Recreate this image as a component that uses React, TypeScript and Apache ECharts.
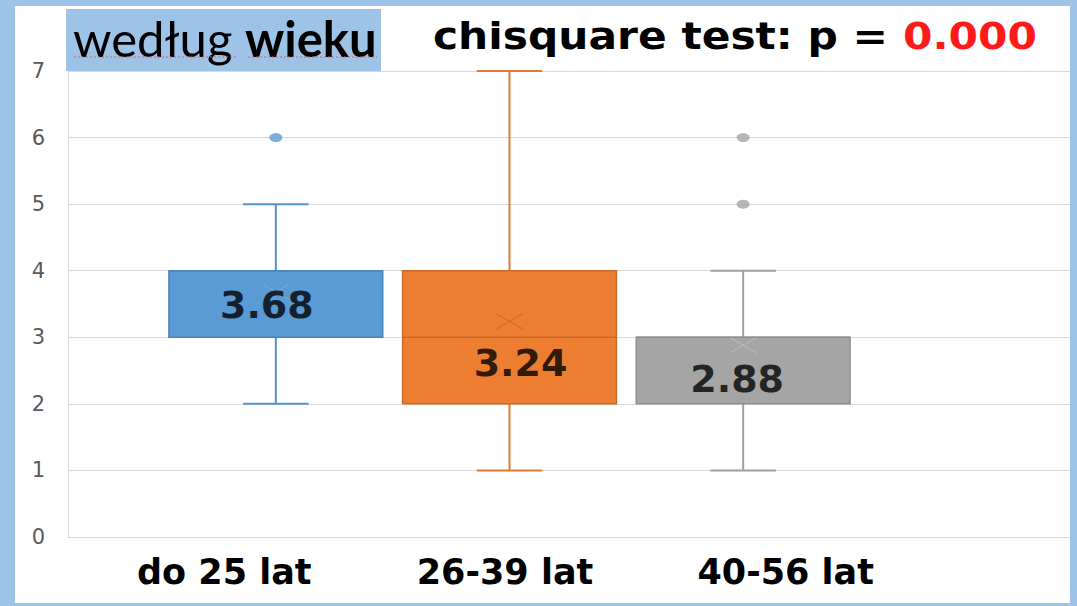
import React, { useEffect, useRef } from 'react';
import * as echarts from 'echarts';

// ---- data ----
const categories = ['do 25 lat', '26-39 lat', '40-56 lat'];
// [min, Q1, median, Q3, max]
const boxStats = [
  [2, 3, 4, 4, 5],
  [1, 2, 3, 4, 7],
  [1, 2, 3, 3, 4],
];
const means = [3.68, 3.24, 2.88];
// [category index, value]
const outliers = [
  [0, 6],
  [2, 5],
  [2, 6],
];
const yMin = 0;
const yMax = 7;
const yStep = 1;
const titleText = 'według';
const titleBold = 'wieku';
const testLabel = 'chisquare test: p = ';
const testValue = '0.000';

// ---- styles ----
const fills = ['#5b9bd5', '#ed7d31', '#a5a5a5'];
const borders = ['#4a84bd', '#c9692a', '#8f8f8f'];
const whiskers = ['#5592cc', '#e07a36', '#a0a0a0'];
const crossColors = ['#7eaadb', '#c46a30', '#c0c0c0'];
const labelOffsets = [
  [-9, 13],
  [11, 42],
  [-6, 34],
];
const FRAME = '#9dc3e6';

export default function App() {
  const ref = useRef<HTMLDivElement>(null);

  useEffect(() => {
    if (!ref.current) return;
    const chart = echarts.init(ref.current, undefined, { renderer: 'svg' });

    const boxSeriesData = boxStats.map((s, i) => [i, ...s]);

    const option: any = {
      animation: false,
      grid: [
        { left: 68, right: 7, top: 71, bottom: 69 },
        { left: 159, right: 217, top: 71, bottom: 69 },
        { left: 84, right: 151, top: 71, bottom: 69 },
      ],
      xAxis: [
        {
          gridIndex: 0,
          type: 'value',
          min: 0,
          max: 1,
          axisLine: { show: true, onZero: false, lineStyle: { color: '#d9d9d9', width: 1 } },
          axisTick: { show: false },
          axisLabel: { show: false },
          splitLine: { show: false },
        },
        {
          gridIndex: 1,
          type: 'category',
          data: categories,
          show: false,
        },
        {
          gridIndex: 2,
          type: 'category',
          data: categories,
          axisLine: { show: false },
          axisTick: { show: false },
          axisLabel: {
            margin: 17,
            fontFamily: 'DejaVu Sans',
            fontWeight: 'bold',
            fontSize: 35,
            color: '#000000',
          },
        },
      ],
      yAxis: [
        {
          gridIndex: 0,
          type: 'value',
          min: yMin,
          max: yMax,
          interval: yStep,
          axisLine: { show: true, lineStyle: { color: '#d9d9d9', width: 1 } },
          axisTick: { show: false },
          axisLabel: {
            margin: 23,
            fontFamily: 'DejaVu Sans',
            fontSize: 21,
            color: '#595959',
          },
          splitLine: { show: true, lineStyle: { color: '#d9d9d9', width: 1 } },
        },
        { gridIndex: 1, type: 'value', min: yMin, max: yMax, show: false },
        { gridIndex: 2, type: 'value', min: yMin, max: yMax, show: false },
      ],
      series: [
        {
          type: 'custom',
          xAxisIndex: 1,
          yAxisIndex: 1,
          z: 2,
          data: boxSeriesData,
          encode: { x: 0, y: [1, 2, 3, 4, 5] },
          renderItem: (params: any, api: any) => {
            const idx = api.value(0);
            const mn = api.value(1);
            const q1 = api.value(2);
            const md = api.value(3);
            const q3 = api.value(4);
            const mx = api.value(5);
            const band = api.size([1, 0])[0];
            const bw = band * 0.915;
            const cw = band * 0.28;
            const cx = api.coord([idx, 0])[0];
            const y = (v: number) => api.coord([idx, v])[1];
            const wc = whiskers[idx];
            return {
              type: 'group',
              children: [
                { type: 'line', shape: { x1: cx, y1: y(q3), x2: cx, y2: y(mx) }, style: { stroke: wc, lineWidth: 2 } },
                { type: 'line', shape: { x1: cx, y1: y(q1), x2: cx, y2: y(mn) }, style: { stroke: wc, lineWidth: 2 } },
                { type: 'line', shape: { x1: cx - cw / 2, y1: y(mx), x2: cx + cw / 2, y2: y(mx) }, style: { stroke: wc, lineWidth: 2 } },
                { type: 'line', shape: { x1: cx - cw / 2, y1: y(mn), x2: cx + cw / 2, y2: y(mn) }, style: { stroke: wc, lineWidth: 2 } },
                {
                  type: 'rect',
                  shape: { x: cx - bw / 2, y: y(q3), width: bw, height: y(q1) - y(q3) },
                  style: { fill: fills[idx], stroke: borders[idx], lineWidth: 1.5 },
                },
                {
                  type: 'line',
                  shape: { x1: cx - bw / 2, y1: y(md), x2: cx + bw / 2, y2: y(md) },
                  style: { stroke: borders[idx], lineWidth: 1.5 },
                },
              ],
            };
          },
        },
        {
          type: 'scatter',
          xAxisIndex: 1,
          yAxisIndex: 1,
          z: 3,
          symbol: 'circle',
          symbolSize: [13, 9],
          data: outliers.map((o) => ({ value: o, itemStyle: { color: fills[o[0]] } })),
        },
        {
          type: 'scatter',
          xAxisIndex: 1,
          yAxisIndex: 1,
          z: 4,
          symbol: 'path://M0,0L27,16M27,0L0,16',
          symbolSize: [26, 15],
          data: means.map((m, i) => ({
            value: [i, m],
            itemStyle: { color: 'transparent', borderColor: crossColors[i], borderWidth: 1.2 },
            label: {
              show: true,
              position: 'inside',
              offset: labelOffsets[i],
              formatter: m.toFixed(2),
              fontFamily: 'DejaVu Sans',
              fontWeight: 'bold',
              fontSize: 38,
              color: '#000000',
            },
          })),
        },
      ],
      graphic: [
        {
          type: 'rect',
          z: 10,
          shape: { x: 66, y: 9, width: 315, height: 62 },
          style: { fill: FRAME },
        },
        {
          type: 'text',
          z: 11,
          x: 73,
          y: 38,
          style: {
            text: '{r|' + titleText + ' }{b|' + titleBold + '}',
            verticalAlign: 'middle',
            rich: {
              r: { fontFamily: 'Lato', fontSize: 49, fontWeight: 'normal', fill: '#000' },
              b: { fontFamily: 'Lato', fontSize: 49, fontWeight: 'bold', fill: '#000' },
            },
          },
        },
        {
          type: 'line',
          z: 11,
          shape: { x1: 74, y1: 57, x2: 238, y2: 57 },
          style: { stroke: '#e06060', lineWidth: 1, lineDash: [2, 2] },
        },
        {
          type: 'line',
          z: 11,
          shape: { x1: 248, y1: 57, x2: 377, y2: 57 },
          style: { stroke: '#e06060', lineWidth: 1, lineDash: [2, 2] },
        },
        {
          type: 'text',
          z: 11,
          x: 433,
          y: 36,
          scaleX: 1.115,
          style: {
            text: '{k|' + testLabel + '}{v|' + testValue + '}',
            verticalAlign: 'middle',
            rich: {
              k: { fontFamily: 'DejaVu Sans', fontSize: 38, fontWeight: 'bold', fill: '#000' },
              v: { fontFamily: 'DejaVu Sans', fontSize: 38, fontWeight: 'bold', fill: '#ff1a1a' },
            },
          },
        },
      ],
    };

    chart.setOption(option);
    return () => chart.dispose();
  }, []);

  return (
    <div style={{ position: 'fixed', left: 0, top: 0, width: 1077, height: 606, background: FRAME }}>
      <div style={{ position: 'absolute', left: 15, top: 6, width: 1055, height: 597, background: '#ffffff' }} />
      <div ref={ref} style={{ position: 'absolute', left: 0, top: 0, width: 1077, height: 606 }} />
    </div>
  );
}
